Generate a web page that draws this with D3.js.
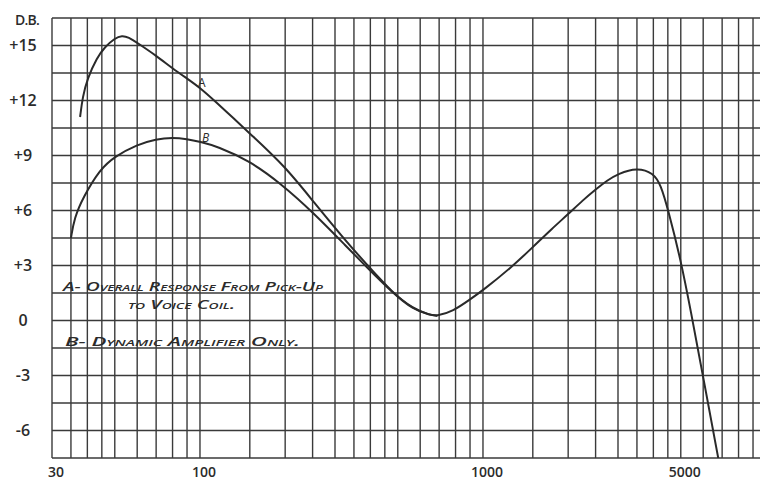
<!DOCTYPE html>
<html>
<head>
<meta charset="utf-8">
<script src="https://cdn.jsdelivr.net/npm/d3@7"></script>
<style>
  html, body { margin: 0; padding: 0; background: #fff; }
  svg { display: block; }
  text { fill: #2b2b2b; font-family: "Open Sans", "DejaVu Sans", sans-serif; }
</style>
</head>
<body>
<div id="chart"></div>
<script>
(function(){

  // frequency grid lines (Hz)
  var gridFreqs = [30, 35, 40, 45, 50, 60, 70, 80, 90,
                   100, 150, 200, 250, 300, 350, 400, 450, 500, 600, 700, 800, 900,
                   1000, 1500, 2000, 2500, 3000, 3500, 4000, 4500, 5000, 6000, 7000, 8000, 9000, 10000];
  var freqLabels = [30, 100, 1000, 5000];

  var dbTicks = [15, 12, 9, 6, 3, 0, -3, -6];
  var dbTickLabels = ['+15', '+12', '+9', '+6', '+3', '0', '-3', '-6'];

  // curve A - overall response from pick-up to voice coil
  var freqA = [37.7, 38.5, 40, 43.3, 46, 50, 53, 56, 60, 70, 80, 90, 100, 115, 131, 150, 200, 251, 331, 389, 480, 566, 650, 690];
  var dbA   = [11.1, 12.2, 13.2, 14.35, 14.9, 15.4, 15.55, 15.45, 15.15, 14.45, 13.75, 13.2, 12.7, 11.86, 11.05, 10.2, 8.4, 6.5, 4.25, 3.05, 1.5, 0.65, 0.3, 0.25];

  // curve B - dynamic amplifier only
  var freqB = [35, 36, 38.6, 44.3, 50, 60, 70, 80, 90, 100, 115, 150, 192, 251, 331, 389, 480, 566, 650, 690, 783, 900,
               1000, 1250, 1500, 1750, 2000, 2250, 2500, 2750, 3000, 3500, 4000, 4250, 4500, 5000, 5420, 6000, 6800];
  var dbB   = [4.5, 5.6, 6.7, 8.25, 8.95, 9.6, 9.9, 9.98, 9.9, 9.75, 9.5, 8.7, 7.5, 5.9, 4.0, 2.9, 1.5, 0.6, 0.3, 0.25, 0.5, 1.15,
               1.65, 2.85, 4.0, 5.0, 5.8, 6.55, 7.15, 7.65, 8.0, 8.35, 8.05, 7.4, 6.1, 3.3, 0.55, -3.1, -7.6];

  var width = 760,
      height = 483;

  var margin = {top: 18, left: 52, bottom: 25};

  var svg = d3.select('#chart').append('svg')
    .attr('width', width)
    .attr('height', height);

  var x = d3.scaleLog()
    .domain([30, 10000])
    .range([margin.left, margin.left + 283 * Math.log10(10000 / 30)]);

  var y = d3.scaleLinear()
    .domain([-7.5, 16.5])
    .range([height - margin.bottom, margin.top]);

  svg.append('clipPath')
    .attr('id', 'plotClip')
    .append('rect')
    .attr('x', margin.left)
    .attr('y', margin.top)
    .attr('width', width - margin.left)
    .attr('height', y(-7.5) - margin.top);

  var grid = svg.append('g')
    .attr('stroke', '#3a3a3a')
    .attr('stroke-width', 1.4);

  grid.selectAll('.vline')
    .data(gridFreqs)
    .enter().append('line')
    .attr('class', 'vline')
    .attr('x1', function(d){ return x(d) })
    .attr('x2', function(d){ return x(d) })
    .attr('y1', y(16.5))
    .attr('y2', y(-7.5));

  grid.selectAll('.hline')
    .data(d3.range(-7.5, 16.6, 1.5))
    .enter().append('line')
    .attr('class', 'hline')
    .attr('x1', x(30))
    .attr('x2', width)
    .attr('y1', function(d){ return y(d) })
    .attr('y2', function(d){ return y(d) });

  // axis labels
  svg.append('g')
    .selectAll('.dbLabel')
    .data(dbTicks)
    .enter().append('text')
    .attr('class', 'dbLabel')
    .attr('x', 23)
    .attr('y', function(d){ return y(d) })
    .attr('dy', '0.36em')
    .attr('text-anchor', 'middle')
    .attr('font-size', 16)
    .attr('font-weight', 600)
    .text(function(d, i){ return dbTickLabels[i] });

  svg.append('text')
    .attr('x', 15)
    .attr('y', 25)
    .attr('font-size', 14)
    .attr('font-weight', 600)
    .attr('letter-spacing', -0.8)
    .text('D.B.');

  svg.append('g')
    .selectAll('.fLabel')
    .data(freqLabels)
    .enter().append('text')
    .attr('class', 'fLabel')
    .attr('x', function(d){ return x(d) + 4 })
    .attr('y', 477)
    .attr('text-anchor', 'middle')
    .attr('font-size', 14)
    .attr('font-weight', 600)
    .text(function(d){ return d });

  // curves
  var lineFunction = d3.line()
    .x(function(d){ return x(d[0]) })
    .y(function(d){ return y(d[1]) })
    .curve(d3.curveBasis);

  var curves = [
    d3.zip(freqA, dbA),
    d3.zip(freqB, dbB)
  ];

  svg.append('g')
    .attr('clip-path', 'url(#plotClip)')
    .selectAll('.curve')
    .data(curves)
    .enter().append('path')
    .attr('class', 'curve')
    .attr('d', function(d){ return lineFunction(d) })
    .attr('fill', 'none')
    .attr('stroke', '#2a2a2a')
    .attr('stroke-width', 2);

  // curve letters
  svg.append('text')
    .attr('x', 198).attr('y', 87)
    .attr('font-size', 12)
    .text('A');

  svg.append('text')
    .attr('x', 202).attr('y', 142)
    .attr('font-size', 12).attr('font-style', 'italic')
    .text('B');

  // legend notes
  var notes = [
    {text: 'A- Overall Response From Pick-Up', x: 63, y: 291, len: 260},
    {text: 'to Voice Coil.', x: 128, y: 309, len: 107},
    {text: 'B- Dynamic Amplifier Only.', x: 65, y: 346, len: 235}
  ];

  svg.append('g')
    .selectAll('.note')
    .data(notes)
    .enter().append('text')
    .attr('class', 'note')
    .attr('x', function(d){ return d.x })
    .attr('y', function(d){ return d.y })
    .attr('font-size', 13)
    .attr('font-style', 'italic')
    .attr('font-weight', 600)
    .style('font-variant', 'small-caps')
    .attr('textLength', function(d){ return d.len })
    .attr('lengthAdjust', 'spacingAndGlyphs')
    .text(function(d){ return d.text });

})();
</script>
</body>
</html>
